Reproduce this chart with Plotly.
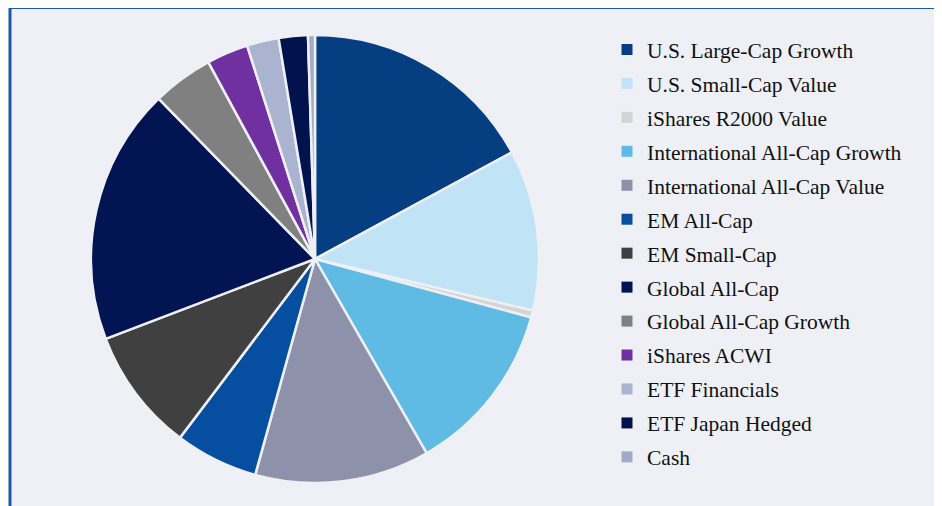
import plotly.graph_objects as go

labels = [
    "U.S. Large-Cap Growth",
    "U.S. Small-Cap Value",
    "iShares R2000 Value",
    "International All-Cap Growth",
    "International All-Cap Value",
    "EM All-Cap",
    "EM Small-Cap",
    "Global All-Cap",
    "Global All-Cap Growth",
    "iShares ACWI",
    "ETF Financials",
    "ETF Japan Hedged",
    "Cash",
]
values = [17.1, 11.6, 0.5, 12.5, 12.6, 6.0, 8.9, 18.5, 4.4, 3.0, 2.3, 2.1, 0.5]
colors = [
    "#053f82", "#c0e3f5", "#d4d4d4", "#5fbae4", "#8e91aa", "#064fa0", "#404040",
    "#021452", "#808080", "#7030a0", "#aab3cf", "#02124d", "#a2aac8",
]

# page has an 8px body margin; figure is sized to fill the rest of the window
OFF = 8
W, H = 942 - OFF, 506 - OFF
bg = "#eef0f5"


def px(x):
    return (x - OFF) / W


def py(y):
    return 1 - (y - OFF) / H


fig = go.Figure()
fig.add_trace(go.Pie(
    labels=labels,
    values=values,
    sort=False,
    direction="clockwise",
    rotation=0,
    marker=dict(colors=colors, line=dict(color=bg, width=2.5)),
    textinfo="none",
    hoverinfo="label+percent",
    showlegend=False,
    domain=dict(x=[px(91), px(539)], y=[py(483), py(35)]),
))

# legend entries (one per slice) so the legend rows can be spaced like the reference
for lab, col in zip(labels, colors):
    fig.add_trace(go.Scatter(
        x=[None], y=[None], mode="markers", name=lab, legendgroup=lab,
        marker=dict(symbol="square", size=11, color=col),
        hoverinfo="skip",
    ))

fig.update_layout(
    width=W, height=H,
    margin=dict(l=0, r=0, t=0, b=0),
    paper_bgcolor="white",
    plot_bgcolor="rgba(0,0,0,0)",
    xaxis=dict(visible=False),
    yaxis=dict(visible=False),
    shapes=[dict(
        type="rect", xref="paper", yref="paper",
        x0=px(10), x1=1.02, y0=-0.02, y1=py(7.5),
        fillcolor=bg, line=dict(color="#1c58a6", width=3), layer="below",
    )],
    legend=dict(
        x=px(607), xanchor="left",
        y=py(29), yanchor="top",
        bgcolor="rgba(0,0,0,0)",
        font=dict(family="Liberation Serif", size=21.5, color="#111111"),
        tracegroupgap=3,
        itemclick=False, itemdoubleclick=False,
    ),
    showlegend=True,
)

fig.write_html("out.html")
